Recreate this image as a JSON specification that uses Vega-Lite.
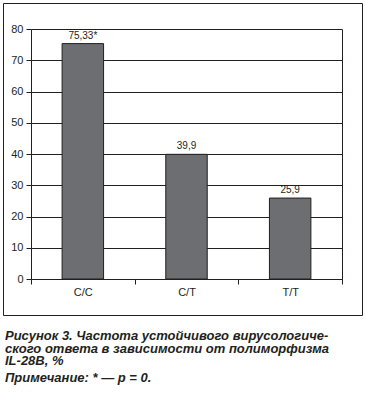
{
  "$schema": "https://vega.github.io/schema/vega-lite/v6.json",
  "width": 359,
  "height": 312,
  "autosize": {"type": "none"},
  "padding": {"left": 3, "top": 3, "right": 3, "bottom": 80},
  "background": "white",
  "view": {"stroke": "#231f20", "strokeWidth": 1, "fill": null},
  "title": {
    "text": ["Рисунок 3. Частота устойчивого вирусологиче-", "ского ответа в зависимости от полиморфизма", "IL-28B, %"],
    "subtitle": "Примечание: * — p = 0.",
    "orient": "bottom",
    "anchor": "start",
    "frame": "group",
    "offset": 15,
    "dx": 2,
    "font": "Liberation Sans",
    "fontSize": 13,
    "fontWeight": "bold",
    "fontStyle": "italic",
    "color": "#231f20",
    "lineHeight": 12.5,
    "subtitleFont": "Liberation Sans",
    "subtitleFontSize": 13,
    "subtitleFontWeight": "bold",
    "subtitleFontStyle": "italic",
    "subtitleColor": "#231f20",
    "subtitlePadding": 4
  },
  "data": {
    "values": [
      {"genotype": "C/C", "value": 75.33, "label": "75,33*"},
      {"genotype": "C/T", "value": 39.9, "label": "39,9"},
      {"genotype": "T/T", "value": 25.9, "label": "25,9"}
    ]
  },
  "encoding": {
    "x": {
      "field": "genotype",
      "type": "nominal",
      "sort": null,
      "scale": {"range": [28, 339], "paddingInner": 0, "paddingOuter": 0},
      "axis": {
        "orient": "bottom",
        "offset": -36,
        "title": null,
        "labelAngle": 0,
        "tickBand": "extent",
        "tickSize": 5,
        "labelPadding": 2,
        "grid": false
      }
    }
  },
  "layer": [
    {
      "mark": {"type": "bar", "width": {"band": 0.4}, "fill": "#6d6e71", "stroke": "#231f20", "strokeWidth": 1},
      "encoding": {
        "y": {
          "field": "value",
          "type": "quantitative",
          "scale": {"domain": [0, 80], "range": [276, 26], "nice": false, "zero": true},
          "axis": {
            "orient": "left",
            "offset": -28,
            "title": null,
            "values": [0, 10, 20, 30, 40, 50, 60, 70, 80],
            "grid": true,
            "tickSize": 5,
            "labelPadding": 3
          }
        }
      }
    },
    {
      "mark": {"type": "text", "baseline": "alphabetic", "dy": -5, "font": "Liberation Sans", "fontSize": 10, "color": "#231f20"},
      "encoding": {
        "text": {"field": "label"},
        "y": {
          "field": "value",
          "type": "quantitative",
          "axis": {
            "orient": "right",
            "offset": -20,
            "title": null,
            "labels": false,
            "ticks": false,
            "grid": false,
            "domain": true
          }
        }
      }
    }
  ],
  "resolve": {"axis": {"y": "independent"}},
  "config": {
    "axis": {
      "domainColor": "#231f20",
      "tickColor": "#231f20",
      "gridColor": "#231f20",
      "gridOpacity": 1,
      "labelColor": "#231f20",
      "labelFont": "Liberation Sans",
      "labelFontSize": 11
    }
  }
}
